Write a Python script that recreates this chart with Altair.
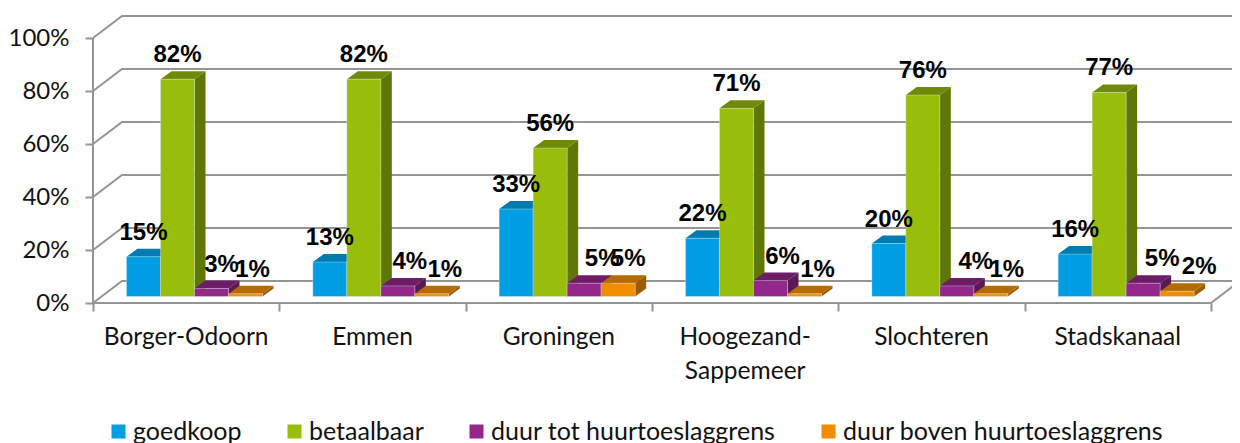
import altair as alt
import pandas as pd

CATEGORIES = ["Borger-Odoorn", "Emmen", "Groningen", "Hoogezand-\nSappemeer", "Slochteren", "Stadskanaal"]
SERIES = ["goedkoop", "betaalbaar", "duur tot huurtoeslaggrens", "duur boven huurtoeslaggrens"]
GOEDKOOP = [15, 13, 33, 22, 20, 16]
BETAALBAAR = [82, 82, 56, 71, 76, 77]
DUUR_TOT = [3, 4, 5, 6, 4, 5]
DUUR_BOVEN = [1, 1, 5, 1, 1, 2]
VALUES = [GOEDKOOP, BETAALBAAR, DUUR_TOT, DUUR_BOVEN]
FRONT = ["#009FE3", "#99BD0B", "#93278A", "#F18E00"]
TOP = ["#007BAF", "#6F8A08", "#6D1D66", "#B66B00"]
SIDE = ["#006A97", "#5F7707", "#5A1854", "#9C5C00"]
# horizontal nudge of the value labels, in pixels, per series
NUDGE = [[0] * 6, [0] * 6, [10, 12, 18, 12, 19, 19], [7, 13, 10, 13, 16, 22]]

GRAY = "#949494"
GROUP_PX = 186.33
PCT_PX = 2.65
WALL_X, WALL_Y = 29 / GROUP_PX, 22 / PCT_PX
BAR_W = 34 / GROUP_PX
BAR_START = 33.5 / GROUP_PX
DEPTH_X, DEPTH_Y = 11 / GROUP_PX, 8 / PCT_PX
BASE = 6.5 / PCT_PX
PLOT_W, PLOT_H = 1139, 287

x_scale = alt.Scale(domain=[0, PLOT_W / GROUP_PX], nice=False, zero=False)
y_scale = alt.Scale(domain=[0, PLOT_H / PCT_PX], nice=False, zero=True)
X = alt.X("x:Q", scale=x_scale, axis=alt.Axis(values=list(range(7)), labels=False, title=None, domain=False,
                                              grid=False, tickSize=8, tickColor=GRAY, tickWidth=2))
Y = alt.Y("y:Q", scale=y_scale, axis=alt.Axis(values=list(range(0, 101, 20)), labelExpr="datum.value + '%'",
                                              title=None, domain=False, grid=False, tickSize=8, tickColor=GRAY,
                                              tickWidth=2, labelFont="Lato", labelFontSize=24, labelColor="#111111",
                                              labelPadding=16))

# walls and floor
wall_rows = []
for v in range(0, 101, 20):
    for k, (a, b) in enumerate([(0, v), (WALL_X, v + WALL_Y), (6 + WALL_X, v + WALL_Y)]):
        wall_rows.append(dict(x=a, y=b, line=f"g{v}", k=k))
for k, (a, b) in enumerate([(0, 0), (6, 0), (6 + WALL_X, WALL_Y)]):
    wall_rows.append(dict(x=a, y=b, line="front", k=k))
for k, (a, b) in enumerate([(0, 0), (0, 100)]):
    wall_rows.append(dict(x=a, y=b, line="axis", k=k))
walls = alt.Chart(pd.DataFrame(wall_rows)).mark_line(color=GRAY, strokeWidth=2, clip=False).encode(
    x=X, y=Y, detail="line:N", order="k:Q")

layers = [walls]
label_rows = []
for s, name in enumerate(SERIES):
    front_rows, side_rows, top_rows = [], [], []
    for g, v in enumerate(VALUES[s]):
        x0 = g + BAR_START + s * BAR_W
        x1 = x0 + BAR_W
        t = BASE + v
        front_rows.append(dict(x=x0, x2=x1, y=BASE, y2=t, serie=name))
        side_rows += [dict(x=x1, y=t, y2=BASE, g=g),
                      dict(x=x1 + DEPTH_X, y=t + DEPTH_Y, y2=BASE + DEPTH_Y, g=g)]
        top_rows += [dict(x=x0, y=t, y2=t, g=g),
                     dict(x=x0 + DEPTH_X, y=t + DEPTH_Y, y2=t, g=g),
                     dict(x=x1, y=t + DEPTH_Y, y2=t, g=g),
                     dict(x=x1 + DEPTH_X, y=t + DEPTH_Y, y2=t + DEPTH_Y, g=g)]
        label_rows.append(dict(x=(x0 + x1) / 2 + NUDGE[s][g] / GROUP_PX, y=t, label=f"{v}%"))
    layers.append(alt.Chart(pd.DataFrame(side_rows)).mark_area(color=SIDE[s], clip=False).encode(
        x=X, y=Y, y2="y2:Q", detail="g:N"))
    layers.append(alt.Chart(pd.DataFrame(top_rows)).mark_area(color=TOP[s], clip=False).encode(
        x=X, y=Y, y2="y2:Q", detail="g:N"))
    layers.append(alt.Chart(pd.DataFrame(front_rows)).mark_bar(clip=False, stroke="#dff2fa", strokeWidth=0.6, strokeOpacity=0.6).encode(
        x=X, x2="x2:Q", y=Y, y2="y2:Q",
        color=alt.Color("serie:N", scale=alt.Scale(domain=SERIES, range=FRONT),
                        legend=alt.Legend(title=None, orient="none", legendX=13, legendY=403, direction="horizontal",
                                          columns=4, gridAlign="none", columnPadding=40, symbolType="square",
                                          symbolSize=196, symbolStrokeWidth=0, labelFont="Lato", labelFontSize=25,
                                          labelColor="#111111", labelLimit=400, labelOffset=2, symbolOpacity=1))))

value_labels = alt.Chart(pd.DataFrame(label_rows)).mark_text(
    font="Liberation Sans", fontWeight="bold", fontSize=24, color="#000000", baseline="middle", yOffset=-24, clip=False
).encode(x=X, y=Y, text="label:N")
layers.append(value_labels)

cat_df = pd.DataFrame({"x": [i + 0.5 for i in range(6)], "y": [0.0] * 6, "label": CATEGORIES})
cats = alt.Chart(cat_df).mark_text(
    font="Lato", fontSize=24.5, color="#111111", baseline="top", lineBreak="\n", lineHeight=34, dy=23, clip=False
).encode(x=X, y=Y, text="label:N")
layers.append(cats)

chart = alt.layer(*layers).properties(
    width=PLOT_W, height=PLOT_H,
    autosize=alt.AutoSizeParams(type="none"),
    padding={"left": 85, "top": 8, "right": 0, "bottom": 140},
    background="white",
).configure_view(stroke=None)

chart.save("out.html", embed_options={"renderer": "svg", "actions": False})
